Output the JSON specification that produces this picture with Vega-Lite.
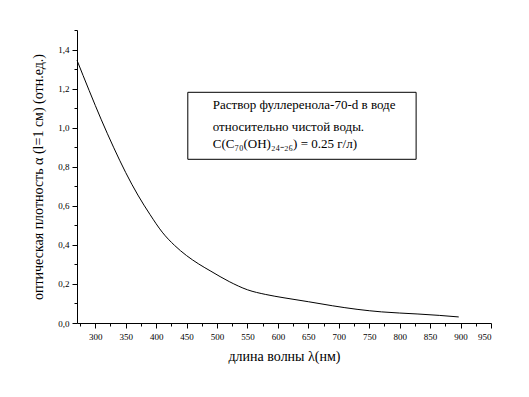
{
  "$schema": "https://vega.github.io/schema/vega-lite/v6.json",
  "width": 414,
  "height": 293,
  "autosize": "none",
  "padding": {"left": 77, "top": 30, "right": 38, "bottom": 74},
  "background": "white",
  "config": {
    "view": {"stroke": null},
    "font": "Liberation Serif",
    "axis": {"grid": false, "domainColor": "black", "tickColor": "black", "labelColor": "black", "titleColor": "black", "labelFont": "Liberation Serif", "titleFont": "Liberation Serif", "titleFontWeight": "normal", "domainWidth": 1, "tickWidth": 1, "labelOverlap": false, "labelBound": false}
  },
  "layer": [
    {
      "data": {"values": [
        {"wl": 270, "a": 1.345},
        {"wl": 290, "a": 1.19},
        {"wl": 310, "a": 1.04},
        {"wl": 330, "a": 0.9},
        {"wl": 350, "a": 0.77},
        {"wl": 370, "a": 0.655},
        {"wl": 390, "a": 0.555},
        {"wl": 410, "a": 0.465},
        {"wl": 430, "a": 0.398},
        {"wl": 450, "a": 0.345},
        {"wl": 470, "a": 0.302},
        {"wl": 490, "a": 0.265},
        {"wl": 520, "a": 0.212},
        {"wl": 550, "a": 0.17},
        {"wl": 580, "a": 0.146},
        {"wl": 610, "a": 0.129},
        {"wl": 650, "a": 0.109},
        {"wl": 690, "a": 0.088},
        {"wl": 730, "a": 0.07},
        {"wl": 770, "a": 0.057},
        {"wl": 800, "a": 0.051},
        {"wl": 830, "a": 0.046},
        {"wl": 865, "a": 0.039},
        {"wl": 897, "a": 0.031}
      ]},
      "mark": {"type": "line", "color": "black", "strokeWidth": 1, "interpolate": "monotone"},
      "encoding": {
        "x": {"field": "wl", "type": "quantitative",
          "scale": {"domain": [270, 950], "nice": false, "zero": false},
          "axis": {"title": "длина волны λ(нм)", "titleFontSize": 14, "titlePadding": 8,
            "values": [275,300,325,350,375,400,425,450,475,500,525,550,575,600,625,650,675,700,725,750,775,800,825,850,875,900,925,950],
            "tickCount": 200,
            "labelExpr": "round(datum.value) % 50 == 0 ? datum.label : ''",
            "format": "d",
            "labelFontSize": 9, "labelPadding": 4,
            "tickSize": {"condition": {"test": "round(datum.value) % 50 == 0", "value": 5}, "value": 3}}},
        "y": {"field": "a", "type": "quantitative",
          "scale": {"domain": [0, 1.5], "nice": false},
          "axis": {"title": "оптическая плотность  α  (l=1 см) (отн.ед.)", "titleFontSize": 14, "titlePadding": 12,
            "values": [0,0.1,0.2,0.3,0.4,0.5,0.6,0.7,0.8,0.9,1.0,1.1,1.2,1.3,1.4,1.5],
            "tickCount": 200,
            "labelExpr": "round(datum.value*10) % 2 == 0 ? replace(format(datum.value, '.1f'), '.', ',') : ''",
            "labelFontSize": 9, "labelPadding": 3,
            "tickSize": {"condition": {"test": "round(datum.value*10) % 2 == 0", "value": 5}, "value": 3}}}
      }
    },
    {
      "data": {"values": [{"x1": 452, "x2": 827, "y1": 1.181, "y2": 0.838}]},
      "mark": {"type": "rect", "fill": null, "stroke": "black", "strokeWidth": 1},
      "encoding": {
        "x": {"field": "x1", "type": "quantitative"},
        "x2": {"field": "x2"},
        "y": {"field": "y1", "type": "quantitative"},
        "y2": {"field": "y2"}
      }
    },
    {
      "data": {"values": [
        {"x": 493, "y": 1.115, "t": "Раствор фуллеренола-70-d в воде"},
        {"x": 493, "y": 1.005, "t": "относительно чистой воды."},
        {"x": 493, "y": 0.915, "t": "C(C₇₀(OH)₂₄₋₂₆) = 0.25 г/л)"}
      ]},
      "mark": {"type": "text", "align": "left", "baseline": "middle", "fontSize": 13, "font": "Liberation Serif", "color": "black"},
      "encoding": {
        "x": {"field": "x", "type": "quantitative"},
        "y": {"field": "y", "type": "quantitative"},
        "text": {"field": "t"}
      }
    }
  ]
}
